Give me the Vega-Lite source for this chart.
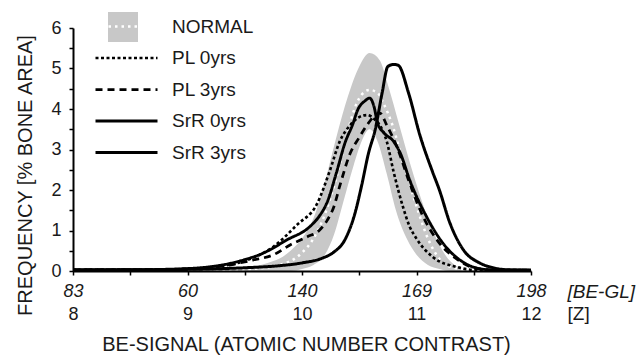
{
  "$schema": "https://vega.github.io/schema/vega-lite/v6.json",
  "width": 458,
  "height": 243,
  "autosize": {"type": "none"},
  "padding": {"left": 73, "top": 28, "right": 112, "bottom": 84},
  "background": "white",
  "config": {
    "font": "Liberation Sans",
    "view": {"stroke": null},
    "axis": {"grid": false, "labelColor": "#1a1a1a", "titleColor": "#1a1a1a"},
    "legend": {"labelColor": "#1a1a1a"}
  },
  "datasets": {
    "hi": [
      {"s": "NORMAL", "z": 8, "v": 0}, {"s": "NORMAL", "z": 9, "v": 0.02}, {"s": "NORMAL", "z": 9.5, "v": 0.08},
      {"s": "NORMAL", "z": 9.7, "v": 0.2}, {"s": "NORMAL", "z": 9.8, "v": 0.3}, {"s": "NORMAL", "z": 9.9, "v": 0.5},
      {"s": "NORMAL", "z": 10.0, "v": 0.8}, {"s": "NORMAL", "z": 10.1, "v": 1.3}, {"s": "NORMAL", "z": 10.2, "v": 2.2},
      {"s": "NORMAL", "z": 10.3, "v": 3.3}, {"s": "NORMAL", "z": 10.4, "v": 4.3}, {"s": "NORMAL", "z": 10.5, "v": 5.05},
      {"s": "NORMAL", "z": 10.59, "v": 5.38}, {"s": "NORMAL", "z": 10.68, "v": 5.2}, {"s": "NORMAL", "z": 10.75, "v": 4.6},
      {"s": "NORMAL", "z": 10.85, "v": 3.6}, {"s": "NORMAL", "z": 10.95, "v": 2.6}, {"s": "NORMAL", "z": 11.05, "v": 1.7},
      {"s": "NORMAL", "z": 11.15, "v": 0.95}, {"s": "NORMAL", "z": 11.25, "v": 0.4}, {"s": "NORMAL", "z": 11.35, "v": 0.12},
      {"s": "NORMAL", "z": 11.5, "v": 0.02}, {"s": "NORMAL", "z": 12, "v": 0}
    ],
    "lo": [
      {"z": 8, "v": 0}, {"z": 9.9, "v": 0}, {"z": 10.0, "v": 0.05}, {"z": 10.1, "v": 0.15}, {"z": 10.2, "v": 0.4},
      {"z": 10.28, "v": 0.9}, {"z": 10.36, "v": 1.7}, {"z": 10.45, "v": 2.6}, {"z": 10.52, "v": 3.2}, {"z": 10.59, "v": 3.5},
      {"z": 10.66, "v": 3.2}, {"z": 10.74, "v": 2.4}, {"z": 10.82, "v": 1.5}, {"z": 10.92, "v": 0.77}, {"z": 11.0, "v": 0.4},
      {"z": 11.1, "v": 0.15}, {"z": 11.2, "v": 0.05}, {"z": 11.3, "v": 0}, {"z": 12, "v": 0}
    ],
    "lines": [
      {"s": "NORMAL", "z": 8, "v": 0}, {"s": "NORMAL", "z": 9, "v": 0.01}, {"s": "NORMAL", "z": 9.5, "v": 0.04},
      {"s": "NORMAL", "z": 9.8, "v": 0.15}, {"s": "NORMAL", "z": 10.0, "v": 0.45}, {"s": "NORMAL", "z": 10.1, "v": 0.8},
      {"s": "NORMAL", "z": 10.2, "v": 1.4}, {"s": "NORMAL", "z": 10.3, "v": 2.3}, {"s": "NORMAL", "z": 10.38, "v": 3.2},
      {"s": "NORMAL", "z": 10.44, "v": 3.85}, {"s": "NORMAL", "z": 10.52, "v": 4.35}, {"s": "NORMAL", "z": 10.59, "v": 4.47},
      {"s": "NORMAL", "z": 10.66, "v": 4.4}, {"s": "NORMAL", "z": 10.71, "v": 4.15}, {"s": "NORMAL", "z": 10.79, "v": 3.6},
      {"s": "NORMAL", "z": 10.9, "v": 2.5}, {"s": "NORMAL", "z": 11.0, "v": 1.6}, {"s": "NORMAL", "z": 11.1, "v": 0.8},
      {"s": "NORMAL", "z": 11.2, "v": 0.3}, {"s": "NORMAL", "z": 11.3, "v": 0.1}, {"s": "NORMAL", "z": 11.5, "v": 0.02},
      {"s": "NORMAL", "z": 12, "v": 0},

      {"s": "PL 0yrs", "z": 8, "v": 0.03}, {"s": "PL 0yrs", "z": 8.5, "v": 0.03}, {"s": "PL 0yrs", "z": 9.0, "v": 0.05},
      {"s": "PL 0yrs", "z": 9.3, "v": 0.12}, {"s": "PL 0yrs", "z": 9.55, "v": 0.3}, {"s": "PL 0yrs", "z": 9.75, "v": 0.6},
      {"s": "PL 0yrs", "z": 9.96, "v": 1.15}, {"s": "PL 0yrs", "z": 10.13, "v": 1.65}, {"s": "PL 0yrs", "z": 10.24, "v": 2.45},
      {"s": "PL 0yrs", "z": 10.33, "v": 3.2}, {"s": "PL 0yrs", "z": 10.42, "v": 3.6}, {"s": "PL 0yrs", "z": 10.5, "v": 3.8},
      {"s": "PL 0yrs", "z": 10.57, "v": 3.85}, {"s": "PL 0yrs", "z": 10.64, "v": 3.73}, {"s": "PL 0yrs", "z": 10.68, "v": 3.6},
      {"s": "PL 0yrs", "z": 10.74, "v": 3.2}, {"s": "PL 0yrs", "z": 10.8, "v": 2.45}, {"s": "PL 0yrs", "z": 10.88, "v": 1.6},
      {"s": "PL 0yrs", "z": 10.94, "v": 1.1}, {"s": "PL 0yrs", "z": 11.0, "v": 0.8}, {"s": "PL 0yrs", "z": 11.14, "v": 0.35},
      {"s": "PL 0yrs", "z": 11.35, "v": 0.1}, {"s": "PL 0yrs", "z": 11.5, "v": 0.03}, {"s": "PL 0yrs", "z": 12, "v": 0.02},

      {"s": "PL 3yrs", "z": 8, "v": 0.03}, {"s": "PL 3yrs", "z": 8.5, "v": 0.03}, {"s": "PL 3yrs", "z": 9.0, "v": 0.05},
      {"s": "PL 3yrs", "z": 9.3, "v": 0.12}, {"s": "PL 3yrs", "z": 9.57, "v": 0.27}, {"s": "PL 3yrs", "z": 9.75, "v": 0.4},
      {"s": "PL 3yrs", "z": 9.9, "v": 0.65}, {"s": "PL 3yrs", "z": 10.05, "v": 0.85}, {"s": "PL 3yrs", "z": 10.15, "v": 1.0},
      {"s": "PL 3yrs", "z": 10.22, "v": 1.25}, {"s": "PL 3yrs", "z": 10.28, "v": 1.6}, {"s": "PL 3yrs", "z": 10.33, "v": 2.1},
      {"s": "PL 3yrs", "z": 10.42, "v": 2.9}, {"s": "PL 3yrs", "z": 10.5, "v": 3.3}, {"s": "PL 3yrs", "z": 10.58, "v": 3.65},
      {"s": "PL 3yrs", "z": 10.64, "v": 3.85}, {"s": "PL 3yrs", "z": 10.68, "v": 3.9}, {"s": "PL 3yrs", "z": 10.74, "v": 3.6},
      {"s": "PL 3yrs", "z": 10.83, "v": 3.06}, {"s": "PL 3yrs", "z": 10.94, "v": 2.17}, {"s": "PL 3yrs", "z": 11.06, "v": 1.33},
      {"s": "PL 3yrs", "z": 11.2, "v": 0.69}, {"s": "PL 3yrs", "z": 11.35, "v": 0.3}, {"s": "PL 3yrs", "z": 11.5, "v": 0.08},
      {"s": "PL 3yrs", "z": 11.7, "v": 0.02}, {"s": "PL 3yrs", "z": 12, "v": 0.02},

      {"s": "SrR 0yrs", "z": 8, "v": 0.03}, {"s": "SrR 0yrs", "z": 8.5, "v": 0.03}, {"s": "SrR 0yrs", "z": 9.0, "v": 0.06},
      {"s": "SrR 0yrs", "z": 9.46, "v": 0.25}, {"s": "SrR 0yrs", "z": 9.66, "v": 0.44}, {"s": "SrR 0yrs", "z": 9.87, "v": 0.77},
      {"s": "SrR 0yrs", "z": 10.07, "v": 1.1}, {"s": "SrR 0yrs", "z": 10.15, "v": 1.35}, {"s": "SrR 0yrs", "z": 10.22, "v": 1.7},
      {"s": "SrR 0yrs", "z": 10.3, "v": 2.42}, {"s": "SrR 0yrs", "z": 10.38, "v": 3.2}, {"s": "SrR 0yrs", "z": 10.44, "v": 3.6},
      {"s": "SrR 0yrs", "z": 10.49, "v": 4.0}, {"s": "SrR 0yrs", "z": 10.55, "v": 4.2}, {"s": "SrR 0yrs", "z": 10.59, "v": 4.27},
      {"s": "SrR 0yrs", "z": 10.63, "v": 4.05}, {"s": "SrR 0yrs", "z": 10.66, "v": 3.65}, {"s": "SrR 0yrs", "z": 10.72, "v": 3.4},
      {"s": "SrR 0yrs", "z": 10.8, "v": 3.2}, {"s": "SrR 0yrs", "z": 10.86, "v": 2.9}, {"s": "SrR 0yrs", "z": 10.94, "v": 2.25},
      {"s": "SrR 0yrs", "z": 11.09, "v": 1.33}, {"s": "SrR 0yrs", "z": 11.23, "v": 0.69}, {"s": "SrR 0yrs", "z": 11.38, "v": 0.27},
      {"s": "SrR 0yrs", "z": 11.53, "v": 0.07}, {"s": "SrR 0yrs", "z": 11.7, "v": 0.02}, {"s": "SrR 0yrs", "z": 12, "v": 0.02},

      {"s": "SrR 3yrs", "z": 8, "v": 0.02}, {"s": "SrR 3yrs", "z": 8.5, "v": 0.03}, {"s": "SrR 3yrs", "z": 9.0, "v": 0.04},
      {"s": "SrR 3yrs", "z": 9.5, "v": 0.08}, {"s": "SrR 3yrs", "z": 9.8, "v": 0.13}, {"s": "SrR 3yrs", "z": 10.0, "v": 0.2},
      {"s": "SrR 3yrs", "z": 10.18, "v": 0.32}, {"s": "SrR 3yrs", "z": 10.27, "v": 0.45}, {"s": "SrR 3yrs", "z": 10.38, "v": 0.8},
      {"s": "SrR 3yrs", "z": 10.46, "v": 1.4}, {"s": "SrR 3yrs", "z": 10.52, "v": 2.1}, {"s": "SrR 3yrs", "z": 10.58, "v": 2.9},
      {"s": "SrR 3yrs", "z": 10.64, "v": 3.5}, {"s": "SrR 3yrs", "z": 10.7, "v": 4.4}, {"s": "SrR 3yrs", "z": 10.75, "v": 5.05},
      {"s": "SrR 3yrs", "z": 10.8, "v": 5.1}, {"s": "SrR 3yrs", "z": 10.84, "v": 5.08}, {"s": "SrR 3yrs", "z": 10.93, "v": 4.4},
      {"s": "SrR 3yrs", "z": 11.03, "v": 3.35}, {"s": "SrR 3yrs", "z": 11.14, "v": 2.45}, {"s": "SrR 3yrs", "z": 11.2, "v": 2.0},
      {"s": "SrR 3yrs", "z": 11.29, "v": 1.2}, {"s": "SrR 3yrs", "z": 11.41, "v": 0.52}, {"s": "SrR 3yrs", "z": 11.55, "v": 0.2},
      {"s": "SrR 3yrs", "z": 11.67, "v": 0.08}, {"s": "SrR 3yrs", "z": 11.8, "v": 0.03}, {"s": "SrR 3yrs", "z": 12, "v": 0.02}
    ]
  },
  "layer": [
    {
      "data": {"name": "hi"},
      "mark": {"type": "area", "interpolate": "monotone"},
      "encoding": {
        "x": {
          "field": "z", "type": "quantitative",
          "scale": {"domain": [8, 12], "nice": false, "zero": false},
          "axis": {
            "orient": "bottom", "zindex": 1,
            "values": [8, 8.5, 9, 9.5, 10, 10.5, 11, 11.5, 12],
            "labelExpr": "datum.value == 8 ? '83' : datum.value == 9 ? '60' : datum.value == 10 ? '140' : datum.value == 11 ? '169' : datum.value == 12 ? '198' : ''",
            "labelFontStyle": "italic", "labelFontSize": 18, "labelBaseline": "alphabetic",
            "labelPadding": 21, "labelFlush": false, "labelOverlap": false,
            "tickSize": 4, "tickColor": "black", "tickWidth": 1.5,
            "domainColor": "black", "domainWidth": 2,
            "title": "[BE-GL]", "titleFontStyle": "italic", "titleFontWeight": "normal", "titleFontSize": 19,
            "titleAlign": "left", "titleAngle": 0, "titleX": 494, "titleY": 26, "titleBaseline": "alphabetic"
          }
        },
        "y": {
          "field": "v", "type": "quantitative",
          "scale": {"domain": [0, 6], "nice": false},
          "axis": {
            "zindex": 1,
            "values": [0, 0.5, 1, 1.5, 2, 2.5, 3, 3.5, 4, 4.5, 5, 5.5, 6],
            "labelExpr": "datum.value % 1 == 0 ? format(datum.value, 'd') : ''",
            "labelFontSize": 18, "labelPadding": 8, "labelFlush": false, "labelOverlap": false,
            "tickSize": 4, "tickColor": "black", "tickWidth": 1.5,
            "domainColor": "black", "domainWidth": 2,
            "title": "FREQUENCY [% BONE AREA]", "titleFontSize": 20, "titleFontWeight": "normal",
            "titleX": -48, "titleY": 147, "titleBaseline": "middle", "titleAngle": -90, "titleAlign": "center"
          }
        },
        "fill": {
          "field": "s", "type": "nominal",
          "scale": {"domain": ["NORMAL"], "range": ["#c8c8c8"]},
          "legend": {
            "orient": "none", "legendX": 35, "legendY": -16, "title": null, "padding": 0,
            "symbolType": "square", "symbolSize": 900, "symbolStrokeWidth": 0, "symbolOpacity": 1,
            "labelExpr": "''", "labelOpacity": 0, "labelFontSize": 19, "zindex": 1
          }
        }
      }
    },
    {
      "data": {"name": "lo"},
      "mark": {"type": "area", "interpolate": "monotone", "fill": "white"},
      "encoding": {
        "x": {
          "field": "z", "type": "quantitative",
          "scale": {"domain": [8, 12], "nice": false, "zero": false},
          "axis": {
            "orient": "bottom", "domain": false, "ticks": false, "labels": false,
            "title": "[Z]", "titleFontSize": 19, "titleFontWeight": "normal",
            "titleAlign": "left", "titleAngle": 0, "titleX": 494, "titleY": 48, "titleBaseline": "alphabetic"
          }
        },
        "y": {"field": "v", "type": "quantitative", "scale": {"domain": [0, 6], "nice": false}, "axis": null}
      }
    },
    {
      "data": {"name": "lines"},
      "mark": {"type": "line", "interpolate": "monotone", "strokeCap": "butt"},
      "encoding": {
        "x": {
          "field": "z", "type": "quantitative",
          "scale": {"domain": [8, 12], "nice": false, "zero": false},
          "axis": {
            "orient": "bottom", "domain": false, "ticks": false, "tickSize": 0,
            "values": [8, 9, 10, 11, 12], "format": "d",
            "labelFontSize": 18, "labelBaseline": "alphabetic", "labelPadding": 48,
            "labelFlush": false, "labelOverlap": false,
            "title": "BE-SIGNAL (ATOMIC NUMBER CONTRAST)", "titleFontSize": 20, "titleFontWeight": "normal",
            "titleX": 233, "titleY": 79, "titleBaseline": "alphabetic", "titleAlign": "center", "titleAngle": 0
          }
        },
        "y": {"field": "v", "type": "quantitative", "scale": {"domain": [0, 6], "nice": false}, "axis": null},
        "stroke": {
          "field": "s", "type": "nominal",
          "scale": {"domain": ["NORMAL", "PL 0yrs", "PL 3yrs", "SrR 0yrs", "SrR 3yrs"], "range": ["white", "black", "black", "black", "black"]},
          "legend": {
            "orient": "none", "legendX": 42, "legendY": -13, "title": null, "padding": 0,
            "symbolType": "M-3.1,0H3.1", "symbolSize": 400, "labelOffset": 34, "rowPadding": 9.5,
            "labelFontSize": 19, "zindex": 2
          }
        },
        "strokeDash": {
          "field": "s", "type": "nominal",
          "scale": {"domain": ["NORMAL", "PL 0yrs", "PL 3yrs", "SrR 0yrs", "SrR 3yrs"], "range": [[2.5, 4], [3, 2.5], [7, 5], [1, 0], [1, 0]]},
          "legend": {
            "orient": "none", "legendX": 42, "legendY": -13, "title": null, "padding": 0,
            "symbolType": "M-3.1,0H3.1", "symbolSize": 400, "labelOffset": 34, "rowPadding": 9.5,
            "labelFontSize": 19, "zindex": 2
          }
        },
        "strokeWidth": {
          "field": "s", "type": "ordinal",
          "scale": {"domain": ["NORMAL", "PL 0yrs", "PL 3yrs", "SrR 0yrs", "SrR 3yrs"], "range": [2.5, 3, 1.8, 2.2, 3.5]},
          "legend": {
            "orient": "none", "legendX": 42, "legendY": -13, "title": null, "padding": 0,
            "symbolType": "M-3.1,0H3.1", "symbolSize": 400, "labelOffset": 34, "rowPadding": 9.5,
            "labelFontSize": 19, "zindex": 2
          }
        }
      }
    }
  ],
  "resolve": {"axis": {"x": "independent", "y": "independent"}}
}
